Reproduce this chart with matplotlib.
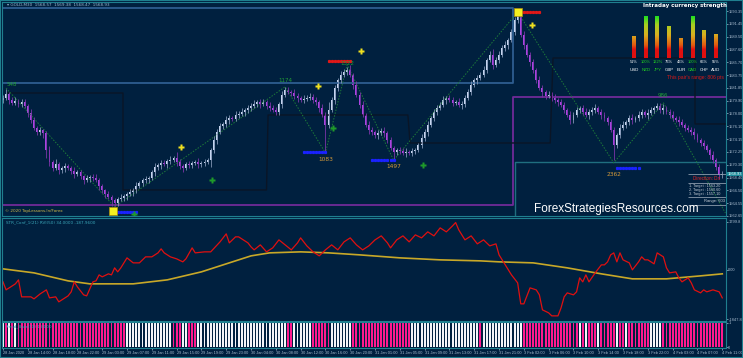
import numpy as np
import matplotlib
matplotlib.use("Agg")
import matplotlib.pyplot as plt
from matplotlib.colors import LinearSegmentedColormap
from matplotlib.transforms import blended_transform_factory

W, H = 743, 358
BG = "#00203f"
FRAME = "#1f7f8f"
TXT = "#a8bccf"
BULL = "#c4d4ee"
BEAR = "#a845e0"
SMALL = ["Liberation Sans", "DejaVu Sans"]

# ---- GOLD M30 candles (close of each bar, open = previous close) ----
first_open = 1580.0
closes = [
    1580.3, 1580.9, 1580.0, 1579.6, 1579.9, 1579.4, 1579.7, 1579.1, 1578.1, 1577.0,
    1575.8, 1575.2, 1575.5, 1575.0, 1572.5, 1570.7, 1569.8, 1570.4, 1569.5, 1569.8,
    1570.1, 1569.8, 1569.4, 1569.0, 1569.2, 1568.6, 1568.0, 1568.3, 1568.5, 1568.3,
    1568.0, 1567.1, 1566.5, 1565.9, 1565.5, 1565.0, 1564.6, 1565.2, 1565.3, 1565.6,
    1565.9, 1566.2, 1566.5, 1567.1, 1567.6, 1568.0, 1568.2, 1568.3, 1569.2, 1570.0,
    1570.3, 1570.6, 1570.4, 1570.9, 1571.0, 1571.3, 1570.7, 1570.1, 1569.8, 1570.4,
    1570.3, 1570.6, 1570.7, 1570.4, 1570.6, 1570.7, 1571.0, 1572.5, 1574.0, 1575.2,
    1576.1, 1576.4, 1577.0, 1577.3, 1577.2, 1577.8, 1577.9, 1578.2, 1578.5, 1578.8,
    1579.1, 1579.4, 1579.7, 1579.4, 1579.7, 1579.1, 1578.8, 1578.5, 1578.2, 1579.4,
    1580.8, 1581.5, 1581.2, 1581.1, 1580.6, 1580.3, 1580.0, 1580.2, 1580.3, 1580.5,
    1580.0, 1579.7, 1578.8, 1577.8, 1576.3, 1578.5, 1580.0, 1581.8, 1583.0, 1583.8,
    1584.2, 1584.5, 1583.8, 1582.3, 1580.8, 1579.3, 1577.8, 1576.3, 1575.5, 1575.2,
    1574.8, 1575.0, 1575.4, 1575.0, 1574.0, 1572.8, 1572.2, 1572.5, 1572.4, 1572.1,
    1572.2, 1572.1, 1572.4, 1572.5, 1573.3, 1574.3, 1575.2, 1576.3, 1577.3, 1578.2,
    1578.8, 1579.3, 1580.0, 1580.3, 1580.0, 1579.6, 1579.7, 1579.3, 1579.4, 1580.3,
    1581.2, 1582.3, 1583.0, 1583.3, 1583.8, 1584.5, 1586.0, 1586.8, 1585.3, 1586.0,
    1586.8, 1587.8, 1588.3, 1589.0, 1590.2, 1592.0, 1592.8, 1589.8, 1588.3, 1586.8,
    1585.7, 1584.5, 1583.0, 1581.8, 1581.2, 1580.6, 1580.8, 1580.3, 1580.0, 1579.7,
    1579.3, 1578.5, 1577.8, 1577.0, 1577.8, 1578.5, 1578.8, 1578.2, 1577.8, 1578.2,
    1578.5, 1578.8, 1578.2, 1577.8, 1577.3, 1576.7, 1575.5, 1573.3, 1574.8, 1575.8,
    1576.3, 1576.7, 1577.3, 1577.0, 1577.3, 1577.8, 1578.2, 1577.8, 1578.1, 1578.5,
    1578.8, 1579.1, 1578.5, 1578.8, 1578.2, 1577.8, 1577.3, 1577.0, 1576.7, 1576.3,
    1575.8, 1575.5, 1575.2, 1574.8, 1574.0, 1573.6, 1573.1, 1572.5, 1571.8, 1571.0,
    1570.0, 1568.8, 1568.93,
]
# wick lengths in tenths of a dollar
wick_up = [
    5, 8, 3, 4, 6, 3, 5, 4, 3, 6,  4, 3, 5, 2, 4, 6, 3, 8, 4, 3,
    5, 3, 4, 6, 3, 4, 2, 5, 3, 4,  6, 3, 4, 2, 5, 3, 4, 3, 6, 4,
    3, 5, 4, 6, 3, 4, 5, 3, 4, 6,  3, 5, 4, 3, 6, 4, 10, 5, 3, 4,
    5, 3, 4, 6, 3, 5, 4, 3, 6, 4,  5, 3, 6, 4, 3, 5, 4, 6, 3, 5,
    4, 6, 3, 5, 4, 3, 6, 4, 5, 3,  6, 4, 5, 3, 6, 4, 3, 5, 4, 6,
    4, 5, 3, 6, 4, 12, 5, 4, 3, 6,  5, 4, 8, 3, 5, 4, 6, 3, 5, 4,
    3, 5, 4, 6, 3, 5, 4, 3, 5, 4,  6, 3, 5, 4, 3, 6, 4, 5, 3, 4,
    5, 4, 6, 3, 5, 4, 3, 6, 4, 5,  4, 6, 3, 5, 4, 6, 3, 5, 8, 4,
    5, 4, 6, 3, 5, 4, 3, 4, 5, 3,  4, 5, 3, 6, 4, 3, 5, 4, 6, 3,
    5, 4, 3, 6, 4, 5, 3, 4, 6, 5,  4, 6, 3, 5, 4, 3, 5, 4, 3, 6,
    5, 3, 4, 6, 3, 5, 4, 3, 6, 4,  3, 5, 4, 6, 3, 4, 5, 3, 6, 4,
    3, 5, 4, 6, 3, 4, 5, 3, 4, 6, 3, 5, 4,
]
wick_dn = [
    4, 3, 6, 4, 3, 5, 4, 3, 6, 5,  3, 5, 4, 6, 12, 5, 4, 3, 6, 4,
    5, 3, 4, 6, 3, 4, 5, 3, 6, 4,  3, 5, 4, 6, 3, 8, 4, 5, 3, 4,
    6, 3, 5, 4, 3, 5, 4, 6, 3, 5,  4, 6, 3, 5, 4, 3, 5, 4, 6, 3,
    5, 4, 3, 6, 4, 5, 3, 10, 4, 5,  3, 5, 4, 6, 3, 4, 5, 3, 6, 4,
    5, 3, 4, 6, 3, 5, 4, 3, 5, 4,  6, 4, 3, 5, 4, 6, 3, 5, 4, 3,
    5, 4, 6, 3, 42, 5, 3, 6, 4, 5,  3, 5, 4, 6, 3, 5, 4, 3, 6, 5,
    4, 6, 3, 5, 4, 3, 12, 4, 5, 3,  6, 3, 5, 4, 3, 5, 4, 6, 3, 4,
    5, 3, 4, 6, 3, 5, 4, 3, 6, 4,  3, 5, 4, 6, 3, 4, 5, 3, 6, 4,
    5, 3, 4, 6, 3, 5, 4, 3, 6, 4,  6, 4, 5, 3, 8, 4, 3, 5, 4, 6,
    4, 5, 3, 6, 4, 3, 5, 4, 3, 6,  5, 4, 3, 6, 4, 5, 3, 23, 4, 5,
    3, 5, 4, 6, 3, 4, 5, 3, 6, 4,  5, 3, 4, 6, 3, 5, 4, 3, 6, 4,
    5, 3, 4, 6, 3, 5, 4, 3, 6, 4, 5, 6, 4,
]
price_ticks = [1593.35, 1591.45, 1589.50, 1587.60, 1585.70, 1583.75, 1581.85,
               1579.90, 1578.00, 1576.10, 1574.15, 1572.25, 1570.30, 1568.40,
               1566.50, 1564.55, 1562.65]
last_price = 1568.93

# zigzag swings
zz_bars = [1, 36, 91, 104, 111, 126, 166, 197, 213, 233]
zz_prices = [1581.8, 1564.0, 1582.0, 1572.1, 1585.3, 1571.0, 1593.2, 1570.6, 1579.6, 1563.1]
high_lbl_bars = [1, 91, 111, 213]
high_lbl_prices = [1581.9, 1582.6, 1585.1, 1580.3]
high_lbl_text = ["548", "1174", "1322", "986"]
low_lbl_bars = [104, 126, 197]
low_lbl_prices = [1571.5, 1570.4, 1569.2]
low_lbl_text = ["1083", "1497", "2362"]

# signal arrows
sell_bars = [57.4, 101.6, 115.5, 170.6]
sell_prices = [1573.0, 1582.1, 1587.4, 1591.3]
buy_bars = [42.3, 67.4, 106.5, 135.5]
buy_prices = [1563.0, 1568.0, 1575.8, 1570.3]
box_bars = [35.5, 166]
box_prices = [1563.4, 1593.2]

# level boxes / lines  (bar index, price)
blue_box_bars = [-1, 164.5, 164.5, -1]
blue_box_prices = [1593.8, 1593.8, 1582.6, 1582.6]
purple_bars = [-1, 164.5, 164.5, 234]
purple_prices = [1564.3, 1564.3, 1580.5, 1580.5]
teal_bars = [165, 165, 234]
teal_prices = [1562.0, 1570.7, 1570.7]
step_bars = [1.3, 38.7, 38.7, 85.0, 85.5, 130.6, 131.3, 176.5, 177.4, 223.2, 223.2, 234]
step_prices = [1581.07, 1581.07, 1566.54, 1566.54, 1577.77, 1577.77, 1573.58, 1573.58,
               1586.31, 1586.31, 1576.43, 1576.43]

# oscillator (red) and its average (yellow)
osc_bars = [0, 1, 2, 4, 5, 6, 9, 10, 12, 14, 15, 17, 18, 21, 22, 23, 24, 26, 27, 29,
            30, 31, 32, 34, 35, 36, 37, 38, 40, 42, 44, 46, 48, 50, 51, 52, 54, 56, 58, 59,
            61, 62, 65, 67, 70, 72, 73, 75, 76, 79, 80, 81, 83, 85, 87, 89, 91, 93, 95, 96,
            98, 100, 102, 104, 106, 108, 110, 112, 114, 116, 118, 120, 122, 124, 125, 127, 129, 131, 133, 135,
            137, 139, 141, 143, 145, 146, 147, 149, 151, 153, 155, 157, 159, 160, 161, 163, 164, 166, 167, 168,
            170, 172, 173, 174, 176, 177, 179, 180, 181, 182, 184, 185, 186, 187, 188, 189, 191, 193, 194, 195,
            196, 197, 198, 199, 200, 202, 203, 205, 206, 207, 208, 210, 211, 213, 214, 215, 217, 218, 219, 221,
            222, 223, 225, 226, 227, 229, 231, 232]
osc_vals = [-451, -752, -677, -526, -376, -1015, -1015, -1090, -902, -752, -1053, -1015, -1203, -978, -827, -451, -639, -940, -978, -451,
            -414, -188, -263, -150, -188, 75, -75, 75, 451, 263, 263, 489, 489, 639, 790, 639, 489, 414, 301, 414,
            827, 639, 677, 677, 1053, 1354, 1015, 1241, 1241, 1015, 865, 752, 940, 677, 827, 1128, 940, 752, 1015, 1203,
            902, 677, 526, 752, 940, 752, 1053, 1203, 940, 752, 902, 1128, 1278, 1015, 827, 1128, 1278, 1053, 1316, 1203,
            1429, 1278, 1579, 1429, 1654, 1780, 1504, 1128, 1278, 978, 1128, 902, 978, 564, 376, 0, -188, -489, -1278, -1278,
            -677, -752, -940, -1504, -1617, -1730, -1730, -1429, -1015, -865, -940, -827, -301, -451, -188, -451, -113, 188, 188, 301,
            564, 639, 301, 639, 376, 263, 0, 301, 489, 376, 376, 226, 639, 489, 75, -113, -75, -301, -451, -301,
            -489, -752, -865, -752, -827, -752, -827, -1053]
ma_bars = [0, 10, 21, 28, 42, 53, 64, 74, 80, 86, 96, 105, 115, 128, 141, 154, 160, 171, 182, 193, 203, 214, 225, 232]
ma_vals = [38, -113, -414, -526, -526, -376, -75, 301, 526, 639, 677, 639, 564, 451, 376, 338, 301, 263, 75, -150, -338, -338, -226, -150]

# trend bars: run lengths, W = white, P = pink
hist_runs = [1, 1, 1, 1, 1, 1, 34, 15, 3, 2, 3, 29, 2, 6, 6, 7, 19, 22, 1, 13, 18,
             1, 1, 1, 3, 1, 1, 4, 1, 2, 1, 7, 4, 20]
hist_cols = ["W", "P", "W", "P", "W", "P", "P", "W", "P", "W", "P", "W", "P", "W", "P", "W", "P", "W", "P", "W", "P",
             "W", "P", "W", "P", "W", "P", "P", "W", "P", "W", "P", "W", "P"]

time_labels = ["28 Jan 2020", "28 Jan 14:00", "28 Jan 18:00", "28 Jan 22:00", "29 Jan 03:00",
               "29 Jan 07:00", "29 Jan 11:00", "29 Jan 15:00", "29 Jan 19:00", "29 Jan 23:00",
               "30 Jan 04:00", "30 Jan 08:00", "30 Jan 12:00", "30 Jan 16:00", "30 Jan 20:00",
               "31 Jan 01:00", "31 Jan 05:00", "31 Jan 09:00", "31 Jan 13:00", "31 Jan 17:00",
               "31 Jan 21:00", "3 Feb 02:00", "3 Feb 06:00", "3 Feb 10:00", "3 Feb 14:00",
               "3 Feb 18:00", "3 Feb 22:00", "4 Feb 03:00", "4 Feb 07:00", "4 Feb 11:00"]

# currency strength widget
cur_names = ["USD", "NZD", "JPY", "GBP", "EUR", "CAD", "CHF", "AUD"]
cur_pct = [51, 100, 122, 76, 46, 100, 66, 55]

plt.rcParams['font.family'] = ['DejaVu Sans']
fig = plt.figure(figsize=(W / 100, H / 100), dpi=100, facecolor=BG)


def px_axes(x0, y0, x1, y1):
    a = fig.add_axes([x0 / W, 1 - y1 / H, (x1 - x0) / W, (y1 - y0) / H])
    a.set_facecolor(BG)
    for s in a.spines.values():
        s.set_color(FRAME)
        s.set_linewidth(0.8)
    return a


def ftext(x, y, s, **kw):
    fig.text(x / W, 1 - y / H, s, **kw)


def right_ticks(a, ticks, labels):
    a.yaxis.tick_right()
    a.set_yticks(ticks)
    a.set_yticklabels(labels, family=SMALL)
    a.tick_params(axis="y", labelsize=2.9, colors=TXT, length=1.2, width=0.5, pad=0.5)


n = len(closes)
bars = np.arange(n)
opens = np.array([first_open] + closes[:-1])
cl = np.array(closes)
highs = np.maximum(opens, cl) + np.array(wick_up) / 10
lows = np.minimum(opens, cl) - np.array(wick_dn) / 10
up = cl >= opens
XL = (-0.32, 233.2)

# ---------------- main price panel ----------------
ax = px_axes(2, 2, 726, 216)
ax.set_xlim(*XL)
ax.set_ylim(1562.64, 1594.70)

ax.plot(blue_box_bars + blue_box_bars[:1], blue_box_prices + blue_box_prices[:1], color="#2e5d90", lw=1.3)
ax.plot(purple_bars, purple_prices, color="#702a98", lw=1.3)
ax.plot(teal_bars, teal_prices, color="#1f6f80", lw=1.0)
ax.plot(step_bars, step_prices, color="#0a1526", lw=1.0)
ax.plot(zz_bars, zz_prices, color="#1d7a3a", lw=0.7, ls=(0, (1.5, 1.5)))

ax.vlines(bars[up], lows[up], highs[up], color="#8294b4", lw=0.6)
ax.vlines(bars[~up], lows[~up], highs[~up], color="#7a35a8", lw=0.6)
body = np.maximum(np.abs(cl - opens), 0.12)
ax.bar(bars[up], body[up], bottom=np.minimum(opens, cl)[up], width=0.62, color=BULL, lw=0)
ax.bar(bars[~up], body[~up], bottom=np.minimum(opens, cl)[~up], width=0.62, color=BEAR, lw=0)

# pivot dotted levels
ax.plot(np.arange(97, 105), [1572.2] * 8, ls="none", marker="s", ms=1.3, color="#1a22ff")
ax.plot(np.arange(119, 127), [1571.0] * 8, ls="none", marker="s", ms=1.3, color="#1a22ff")
ax.plot(np.arange(198, 206), [1569.8] * 8, ls="none", marker="s", ms=1.3, color="#1a22ff")
ax.plot(np.arange(37, 44), [1563.3] * 7, ls="none", marker="s", ms=1.3, color="#1a22ff")
ax.plot(np.arange(105, 113), [1585.9] * 8, ls="none", marker="s", ms=1.3, color="#e01818")
ax.plot(np.arange(167, 174), [1593.2] * 7, ls="none", marker="s", ms=1.3, color="#e01818")

for b, p, t in zip(high_lbl_bars, high_lbl_prices, high_lbl_text):
    ax.text(b, p, t, color="#22a036", fontsize=4, ha="left" if b < 5 else "center", va="bottom")
for b, p, t in zip(low_lbl_bars, low_lbl_prices, low_lbl_text):
    ax.text(b, p, t, color="#d49a3a", fontsize=4.2, ha="center", va="top")

ax.plot(sell_bars, sell_prices, ls="none", marker="P", ms=4, color="#f0e020", mec="none")
ax.plot(buy_bars, buy_prices, ls="none", marker="P", ms=4, color="#1f9a2a", mec="none")
ax.plot(box_bars, box_prices, ls="none", marker="s", ms=6, color="#f4f020", mec="#b09010", mew=0.5)

right_ticks(ax, price_ticks, [f"{v:.2f}" for v in price_ticks])
ax.set_xticks([])

tr = blended_transform_factory(ax.transAxes, ax.transData)
ax.text(1.002, last_price, f"{last_price:.2f}", transform=tr, fontsize=2.9, color="white", family=SMALL,
        va="center", ha="left", bbox=dict(boxstyle="square,pad=0.1", fc="#1a8a9a", ec="none"))

# trade info box
ax.hlines([1568.9, 1567.6, 1565.5, 1564.3], 221, 233.2, color="#8d9cac", lw=0.6)
ax.text(227, 1568.3, "Direction: Dn", color="#e02424", fontsize=3.3, ha="center", va="center", family=SMALL)
for p, t in zip([1567.1, 1566.5, 1565.9], ["1. Target : 1563.20", "2. Target : 1560.60", "3. Target : 1557.10"]):
    ax.text(221.3, p, t, color="#c8d0d8", fontsize=2.7, ha="left", va="center", family=SMALL)
ax.text(232.8, 1564.9, "Range: 603", color="#c8d0d8", fontsize=3.0, ha="right", va="center", family=SMALL)

# ---------------- currency strength widget ----------------
sa = fig.add_axes([627 / W, 1 - 58 / H, 95 / W, 42 / H])
sa.axis("off")
cmap = LinearSegmentedColormap.from_list("str", [(0, "#e01010"), (0.2, "#e01010"), (0.3, "#e05a10"),
                                                 (0.55, "#d8b020"), (0.8, "#a8d020"), (1, "#20e020")])
for k, v in enumerate(cur_pct):
    h = min(v, 100)
    grad = np.linspace(0, h / 100, 60)[:, None]
    sa.imshow(grad, cmap=cmap, vmin=0, vmax=1, origin="lower", aspect="auto",
              extent=[k - 0.17, k + 0.17, 0, h])
    col = "#22d022" if v >= 100 else "white"
    sa.text(k, -9.5, f"{v}%", color=col, fontsize=2.9, ha="center", va="center", clip_on=False, family=SMALL)
    sa.text(k, -28.6, cur_names[k], color=col, fontsize=3.2, ha="center", va="center", clip_on=False, family=SMALL)
sa.set_xlim(-0.6, 7.52)
sa.set_ylim(0, 100)

ftext(685, 6, "Intraday currency strength", color="white", fontsize=4.0, fontweight="bold", ha="center", va="center")
ftext(695, 78, "This pair's range: 806 pts", color="#d81818", fontsize=3.6, ha="center", va="center", family=SMALL)
ftext(7, 4.5, "\u25be GOLD,M30  1568.57  1569.38  1568.47  1568.93", color="#9fb6cc", fontsize=3, ha="left", va="center")
ftext(5, 211, "\u00a9 2020 TopLessons.In/Forex", color="#d0b848", fontsize=3, ha="left", va="center")
ftext(616, 209, "ForexStrategiesResources.com", color="white", fontsize=8.5, family="Liberation Sans",
      ha="center", va="center")

# ---------------- oscillator panel ----------------
ox = px_axes(2, 218, 726, 321)
ox.set_xlim(*XL)
ox.set_ylim(-1923, 1950)
ox.plot(ma_bars, ma_vals, color="#c8a828", lw=1.2)
ox.plot(osc_bars, osc_vals, color="#e01010", lw=0.9)
right_ticks(ox, [1799.8, 0, -1847.8], ["1799.8", "0.00", "-1847.8"])
ox.set_xticks([])
ftext(6, 222, "STR_Conf_1(21) RVI(50) 34.0000 -187.9600", color="#3aa6b8", fontsize=3, ha="left", va="center")

# ---------------- trend bar panel ----------------
hx = px_axes(2, 322, 726, 348)
hx.set_xlim(*XL)
hx.set_ylim(-0.04, 1.04)
states = [c for r, c in zip(hist_runs, hist_cols) for _ in range(r)]
hcol = ["#f4f4f8" if s == "W" else "#ff1a8e" for s in states]
hx.bar(np.arange(len(states)), [1] * len(states), width=0.62, color=hcol, lw=0)
right_ticks(hx, [0, 1], ["0", "1"])
hx.set_xticks(np.arange(len(time_labels)) * 8)
hx.set_xticklabels(time_labels, ha="left", family=SMALL)
hx.tick_params(axis="x", labelsize=2.8, colors=TXT, length=1.5, width=0.5, pad=1)
ftext(5, 326, "Trend_Bars(13) 1.0000", color="#3aa6b8", fontsize=3, ha="left", va="center")

# outer border
fig.patches.append(plt.Rectangle((0, 0), 1, 1, transform=fig.transFigure, fill=False,
                                 ec=FRAME, lw=1.5))

fig.savefig("out.png", dpi=100, facecolor=BG)
